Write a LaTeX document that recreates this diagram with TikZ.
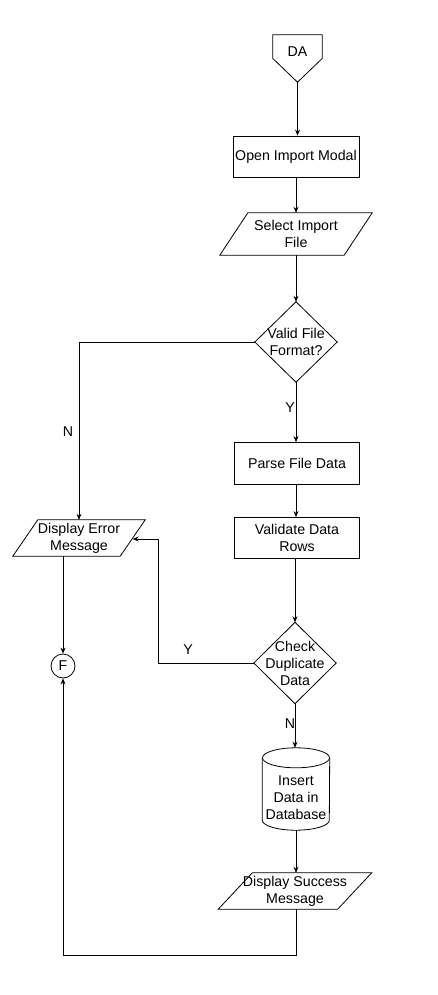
\documentclass[tikz,border=0pt]{standalone}
\usepackage{fontspec}
\setmainfont{Liberation Sans}
\usetikzlibrary{arrows.meta}
\newcommand{\drawpara}[2]{\draw[shapeline] ([xshift=#2pt]#1.north west) -- ([xshift=#2pt]#1.north east) -- ([xshift=-#2pt]#1.south east) -- ([xshift=-#2pt]#1.south west) -- cycle;}
\begin{document}
\begin{tikzpicture}[x=1pt,y=-1pt,
  txt/.style={inner sep=0pt, align=center, font=\fontsize{14.2}{17}\selectfont, text=black},
  procbox/.style={txt, draw, line width=0.8pt},
  shapeline/.style={line width=0.8pt},
  conn/.style={line width=0.8pt, -{Stealth[length=6pt,width=5pt]}},
  lbl/.style={font=\fontsize{14.2}{17}\selectfont, inner sep=0pt}]
\useasboundingbox (0,0) rectangle (438,995);
% off-page connector DA
\node[txt, minimum width=49pt, minimum height=47pt] (da) at (297.5,58.5) {};
\draw[shapeline] (da.north west) -- (da.north east) -- (da.east) -- (da.south) -- (da.west) -- cycle;
\node[txt] (datext) at (297.5,52) {DA};
% process boxes
\node[procbox, minimum width=126pt, minimum height=41pt] (open) at (296,156.5) {Open Import Modal};
\node[txt, minimum width=124pt, minimum height=42pt] (sel) at (296,234) {Select Import\\File};
\drawpara{sel}{14}
\node[txt, minimum width=82pt, minimum height=80pt] (valid) at (296,342) {Valid File\\Format?};
\draw[shapeline] (valid.north) -- (valid.east) -- (valid.south) -- (valid.west) -- cycle;
\node[procbox, minimum width=125pt, minimum height=42pt] (parse) at (297,463.5) {Parse File Data};
\node[procbox, minimum width=125pt, minimum height=41pt] (vrows) at (297,538) {Validate Data\\Rows};
\node[txt, minimum width=82pt, minimum height=81pt] (dup) at (295,663) {Check\\Duplicate\\Data};
\draw[shapeline] (dup.north) -- (dup.east) -- (dup.south) -- (dup.west) -- cycle;
\node[minimum width=67pt, minimum height=82pt, inner sep=0pt] (db) at (296,789) {};
\node[txt] (dbtext) at (296,798) {Insert\\Data in\\Database};
\draw[shapeline] ([yshift=-10pt]db.north) ellipse [x radius=33.5pt, y radius=10pt];
\draw[shapeline] ([yshift=-10pt]db.north west) -- ([yshift=10pt]db.south west) arc[start angle=180, end angle=360, x radius=33.5pt, y radius=10pt] -- ([yshift=-10pt]db.north east);
\node[txt, minimum width=119pt, minimum height=36pt] (succ) at (295,891) {Display Success\\Message};
\drawpara{succ}{17}
\node[txt, minimum width=107pt, minimum height=36pt] (err) at (79,538) {Display Error\\Message};
\drawpara{err}{12.5}
\node[txt, draw, circle, line width=0.8pt, minimum size=24pt] (f) at (63,666) {F};
% connectors
\draw[conn] (da.south) -- (open.north -| da.south);
\draw[conn] (open.south) -- (sel.north -| open.south);
\draw[conn] (sel.south -| valid.north) -- (valid.north);
\draw[conn] (valid.south) -- (parse.north -| valid.south);
\draw[conn] (parse.south -| 296,0) -- (vrows.north -| 296,0);
\draw[conn] (vrows.south -| dup.north) -- (dup.north);
\draw[conn] (dup.south) -- (db.north -| dup.south);
\draw[conn] (db.south) -- (succ.north -| db.south);
\draw[conn] (valid.west) -- (79,342) -- (err.north -| 79,0);
\draw[conn] (dup.west) -- (158,663) -- (158,539) -- (err.east |- 0,539);
\draw[conn] (err.south -| f.north) -- (f.north);
\draw[conn] (succ.south -| 296,0) -- (296,955) -- (63,955) -- (f.south);
% labels
\node[lbl] (ln1) at (68,432) {N};
\node[lbl] (ly1) at (290,408) {Y};
\node[lbl] (ly2) at (188,650) {Y};
\node[lbl] (ln2) at (290,724) {N};
\end{tikzpicture}
\end{document}
